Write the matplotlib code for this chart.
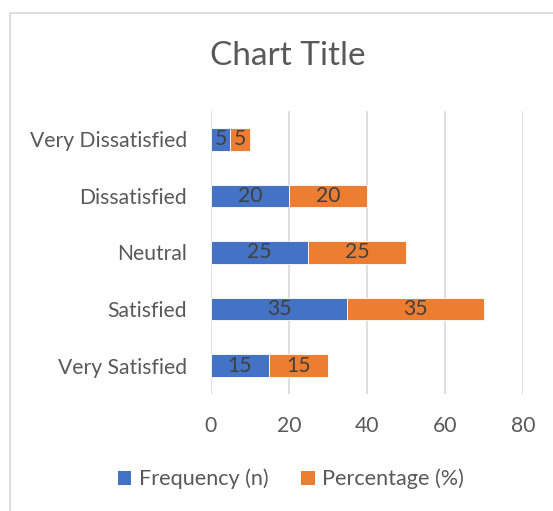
import matplotlib
matplotlib.use("Agg")
import matplotlib.pyplot as plt
from matplotlib.patches import Rectangle, Patch

categories = ["Very Satisfied", "Satisfied", "Neutral", "Dissatisfied", "Very Dissatisfied"]
frequency = [15, 35, 25, 20, 5]
percentage = [15, 35, 25, 20, 5]
series_names = ["Frequency (n)", "Percentage (%)"]
x_ticks = [0, 20, 40, 60, 80]
title = "Chart Title"

BLUE = "#4472C4"
ORANGE = "#ED7D31"
TEXT = "#595959"
GRID = "#D9D9D9"

plt.rcParams['font.family'] = ['Lato', 'DejaVu Sans']
FS = 15.2

W, H = 553, 511
fig = plt.figure(figsize=(W / 100, H / 100), dpi=100)
fig.patch.set_facecolor("white")

ax = fig.add_axes([210.8 / W, 1 - 394 / H, (523.2 - 210.8) / W, (394 - 111) / H])
y = list(range(len(categories)))
b1 = ax.barh(y, frequency, height=0.4, color=BLUE, edgecolor="white", linewidth=0.6, zorder=3)
b2 = ax.barh(y, percentage, left=frequency, height=0.4, color=ORANGE, edgecolor="white", linewidth=0.6, zorder=3)
for bars in (b1, b2):
    ax.bar_label(bars, label_type="center", fontsize=FS, color="#404040")

ax.set_xlim(0, 80)
ax.set_ylim(-0.5, len(categories) - 0.5)
ax.set_xticks(x_ticks)
ax.set_yticks(y)
ax.set_yticklabels(categories)
ax.grid(axis="x", color=GRID, linewidth=1.2, zorder=0)
ax.set_axisbelow(True)
for s in ax.spines.values():
    s.set_visible(False)
ax.tick_params(axis="both", length=0, labelsize=FS, labelcolor=TEXT)
ax.tick_params(axis="y", pad=17)
ax.tick_params(axis="x", pad=16)

fig.text(287.5 / W, 1 - 56 / H, title, ha="center", va="center", fontsize=24,
         color=TEXT, fontweight="normal")

handles = [Patch(facecolor=BLUE), Patch(facecolor=ORANGE)]
fig.legend(handles, series_names, loc="center", bbox_to_anchor=(291 / W, 1 - 479 / H),
           ncol=2, frameon=False, fontsize=15.6, labelcolor=TEXT,
           handlelength=0.62, handleheight=0.62, handletextpad=0.35, columnspacing=1.5)

fig.add_artist(Rectangle((10 / W, -0.1), 1.2, (1 - 13 / H) + 0.1, transform=fig.transFigure,
                         fill=False, edgecolor=GRID, linewidth=1.2))

fig.savefig("out.png", dpi=100)
